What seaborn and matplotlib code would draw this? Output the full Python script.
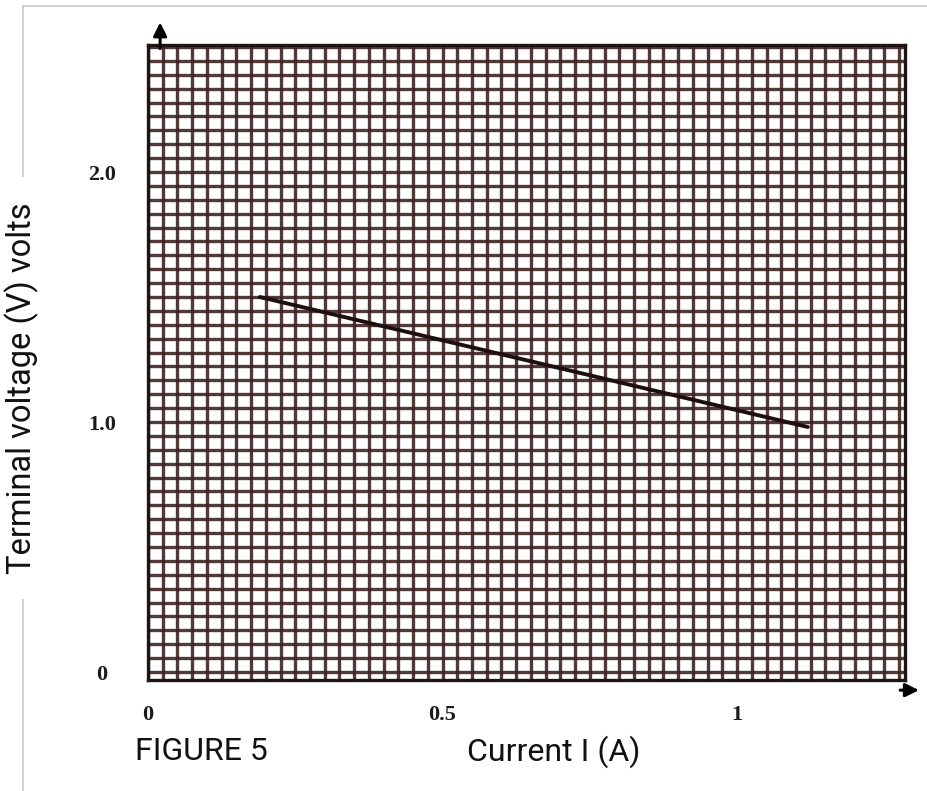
import numpy as np
import matplotlib
matplotlib.use('Agg')
import matplotlib.pyplot as plt
import seaborn as sns
from matplotlib.ticker import MultipleLocator
from matplotlib.lines import Line2D

# Data
current = [0.19, 1.12]
voltage = [1.50, 0.98]

y_ticks = [0, 1.0, 2.0]
y_tick_labels = ['0', '1.0', '2.0']
x_ticks = [0, 0.5, 1.0]
x_tick_labels = ['0', '0.5', '1']

sns.set_theme(style='white')
plt.rcParams['font.family'] = ['Roboto', 'DejaVu Sans']

W, H = 928, 791
fig = plt.figure(figsize=(W / 100, H / 100), dpi=100)
ax = fig.add_axes([148 / W, 1 - 680 / H, (905 - 148) / W, (680 - 45) / H])

grid_col = '#3e2422'
ax.set_xlim(0, 1.285)
ax.set_ylim(-0.032, 2.508)

ax.xaxis.set_minor_locator(MultipleLocator(0.025))
ax.yaxis.set_minor_locator(MultipleLocator(1 / 18))
ax.grid(which='both', color=grid_col, linewidth=2.4, alpha=0.9)
ax.set_axisbelow(True)

sns.lineplot(x=current, y=voltage, ax=ax, color='#1e0e0e', linewidth=2.8)

ax.set_xticks(x_ticks)
ax.set_xticklabels(x_tick_labels)
ax.set_yticks(y_ticks)
ax.set_yticklabels(y_tick_labels, ha='center')
ax.tick_params(axis='both', which='both', length=0)
ax.tick_params(axis='y', pad=33)
ax.tick_params(axis='x', pad=18)
for lab in ax.get_xticklabels() + ax.get_yticklabels():
    lab.set_family('Liberation Serif')
    lab.set_fontweight('bold')
    lab.set_fontsize(16)
    lab.set_color('#1a1a1a')

for s in ax.spines.values():
    s.set_color('#1e1414')
    s.set_linewidth(2.4)

# axis arrows
ax.annotate('', xy=(0.016, 1.04), xytext=(0.016, 0.99), xycoords='axes fraction',
            arrowprops=dict(arrowstyle='-|>', color='black', lw=2.2, mutation_scale=20),
            annotation_clip=False)
ax.annotate('', xy=(1.022, -0.016), xytext=(0.99, -0.016), xycoords='axes fraction',
            arrowprops=dict(arrowstyle='-|>', color='black', lw=2.2, mutation_scale=20),
            annotation_clip=False)

# thin gray frame of the original page
fig.add_artist(Line2D([23 / W, 1], [1 - 6 / H, 1 - 6 / H], color='#c8c8c8', lw=1.2))
fig.add_artist(Line2D([23 / W, 23 / W], [0, 1 - 6 / H], color='#c8c8c8', lw=1.2))

fig.text(22 / W, 1 - 388 / H, 'Terminal voltage (V) volts', rotation=90,
         ha='center', va='center', fontsize=23.5, color='#111111',
         bbox=dict(facecolor='white', edgecolor='none', pad=18))
fig.text(201 / W, 1 - 752 / H, 'FIGURE 5', ha='center', va='center',
         fontsize=23, color='#111111')
fig.text(554 / W, 1 - 752 / H, 'Current I (A)', ha='center', va='center',
         fontsize=23, color='#111111')

fig.savefig('out.png', dpi=100, facecolor='white')
